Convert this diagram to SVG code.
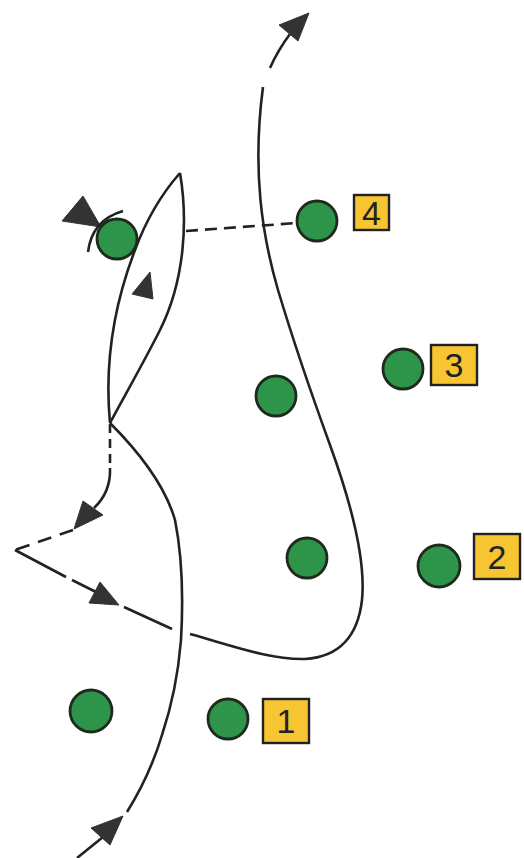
<svg xmlns="http://www.w3.org/2000/svg" width="524" height="858" viewBox="0 0 524 858">
<style>
.ln{fill:none;stroke:#222;stroke-width:2.6;stroke-linecap:butt}
.dl{fill:none;stroke:#222;stroke-width:2.6;stroke-dasharray:12 7}
.ah{fill:#333;stroke:#333;stroke-width:1;stroke-linejoin:round}
.pl{fill:#2d9449;stroke:#1e2a1e;stroke-width:2.8}
.bx{fill:#f7c531;stroke:#222;stroke-width:2.4}
.nm{font-family:"Liberation Sans",Arial,sans-serif;font-size:34px;fill:#222;text-anchor:middle}
</style>
<rect width="524" height="858" fill="#ffffff"/>
<g id="connectors">
  <path class="ln" d="M77,858 L103,837"/>
  <polygon class="ah" points="123,816 91,828 110,845"/>
  <path class="ln" d="M127,812 Q150,775 162,735 Q177,690 181,640 Q185,570 175,520 Q162,475 110,423"/>
  <path class="ln" d="M110,423 C105,370 112,310 135,250 C148,215 165,190 180,173"/>
  <path class="ln" d="M180,173 C188,220 185,280 160,330 C145,360 125,395 110,423"/>
  <polygon class="ah" points="150,272 132,294 153,299"/>
  <polygon class="ah" points="83,196 62,221 101,227"/>
  <path class="ln" d="M88,252 Q92,220 123,211"/>
  <path class="dl" d="M186,231 L297,223"/>
  <path class="ln" d="M110,424 L110,468" stroke-dasharray="9 6"/>
  <path class="ln" d="M110,468 Q111,492 94,508"/>
  <polygon class="ah" points="74,529 83,501 103,515"/>
  <path class="ln" d="M73,530 L15,550" stroke-dasharray="14 9"/>
  <path class="ln" d="M15,550 L66,577"/>
  <path class="ln" d="M72,580 L100,594"/>
  <polygon class="ah" points="119,605 89,603 100,582"/>
  <path class="ln" d="M124,607 L172,629"/>
  <path class="ln" d="M190,634 C230,645 270,660 305,659 C340,657 358,635 362,600 C366,560 350,500 330,445 C310,390 290,330 278,290 C262,235 252,170 263,87"/>
  <path class="ln" d="M270,68 Q278,50 290,34"/>
  <polygon class="ah" points="309,13 279,25 298,41"/>
</g>
<g id="player-a"><circle class="pl" cx="117" cy="239" r="20"/></g>
<g id="player-4"><circle class="pl" cx="317" cy="221" r="20"/><rect class="bx" x="354" y="195" width="35" height="35"/><text class="nm" x="371.5" y="225">4</text></g>
<g id="player-3"><circle class="pl" cx="403" cy="369" r="20"/><rect class="bx" x="431" y="345" width="46" height="40"/><text class="nm" x="454" y="377">3</text></g>
<g id="player-b"><circle class="pl" cx="276" cy="396" r="20"/></g>
<g id="player-c"><circle class="pl" cx="307" cy="558" r="20"/></g>
<g id="player-2"><circle class="pl" cx="439" cy="566" r="21"/><rect class="bx" x="474" y="534" width="46" height="45"/><text class="nm" x="497" y="569">2</text></g>
<g id="player-d"><circle class="pl" cx="91" cy="711" r="21"/></g>
<g id="player-1"><circle class="pl" cx="228" cy="719" r="20"/><rect class="bx" x="263" y="699" width="46" height="44"/><text class="nm" x="286" y="733">1</text></g>
</svg>
